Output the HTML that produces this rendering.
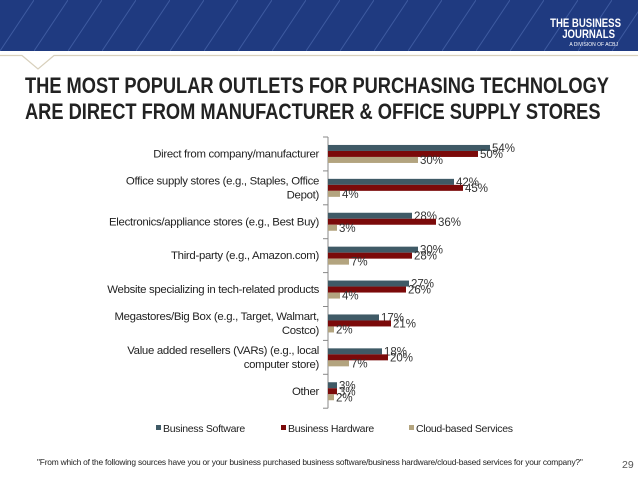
<!DOCTYPE html>
<html><head><meta charset="utf-8"><style>
body{margin:0;width:638px;height:479px;overflow:hidden;background:#fff;font-family:"Liberation Sans",sans-serif;position:relative}
.abs{position:absolute}
</style></head><body>
<svg class="abs" style="left:0;top:0" width="638" height="479">
<defs><pattern id="diag" width="34" height="51" patternUnits="userSpaceOnUse"><line x1="0" y1="51" x2="34" y2="0" stroke="#3d5aa0" stroke-width="1"/></pattern></defs>
<rect x="0" y="0" width="638" height="51" fill="#1f3a80"/>
<rect x="0" y="0" width="638" height="51" fill="url(#diag)"/>
<polyline points="0,55.5 22,55.5 38,69 54,55.5 638,55.5" fill="none" stroke="#d8d0bc" stroke-width="1.2"/>
<g font-family="Liberation Sans" font-weight="bold" fill="#fff" text-anchor="end">
<text x="621" y="27" font-size="12" transform="translate(621 0) scale(0.8 1) translate(-621 0)">THE BUSINESS</text>
<text x="615" y="38" font-size="12" transform="translate(615 0) scale(0.8 1) translate(-615 0)">JOURNALS</text>
<text x="618" y="46" font-size="5" font-weight="normal">A DIVISION OF ACBJ</text>
</g>
<g font-weight="bold" font-size="22" fill="#222">
<text x="25" y="93" transform="translate(25 0) scale(0.83 1) translate(-25 0)">THE MOST POPULAR OUTLETS FOR PURCHASING TECHNOLOGY</text>
<text x="25" y="119" transform="translate(25 0) scale(0.83 1) translate(-25 0)">ARE DIRECT FROM MANUFACTURER &amp; OFFICE SUPPLY STORES</text>
</g>
<g id="chart"></g>
<g font-size="10.5" fill="#222">
<rect x="156" y="425" width="5" height="5" fill="#3f5a66"/><text x="163" y="432" letter-spacing="-0.3">Business Software</text>
<rect x="281" y="425" width="5" height="5" fill="#7b0a0a"/><text x="288" y="432" letter-spacing="-0.3">Business Hardware</text>
<rect x="409" y="425" width="5" height="5" fill="#b3a47f"/><text x="416" y="432" letter-spacing="-0.3">Cloud-based Services</text>
</g>
<text x="37" y="465" font-size="8.4" fill="#222" letter-spacing="-0.2">"From which of the following sources have you or your business purchased business software/business hardware/cloud-based services for your company?"</text>
<text x="622" y="468" font-size="10.5" fill="#555">29</text>
</svg>
<script>
const categories=[["Direct from company/manufacturer"],["Office supply stores (e.g., Staples, Office","Depot)"],["Electronics/appliance stores (e.g., Best Buy)"],["Third-party (e.g., Amazon.com)"],["Website specializing in tech-related products"],["Megastores/Big Box (e.g., Target, Walmart,","Costco)"],["Value added resellers (VARs) (e.g., local","computer store)"],["Other"]];
const software=[54,42,28,30,27,17,18,3];
const hardware=[50,45,36,28,26,21,20,3];
const cloud=[30,4,3,7,4,2,7,2];
const series=[software,hardware,cloud];
const colors=["#3f5a66","#7b0a0a","#b3a47f"];
const names=["software","hardware","cloud"];
const ns="http://www.w3.org/2000/svg";
const g=document.getElementById('chart');
const x0=328,pxPer=3.0,topY=137,step=33.9,barH=6;
const xs=v=>x0+v*pxPer;
function mk(t,a){const e=document.createElementNS(ns,t);for(const k in a)e.setAttribute(k,a[k]);g.appendChild(e);return e;}
const ax=mk('line',{x1:x0,y1:topY,x2:x0,y2:topY+step*categories.length,stroke:'#888','stroke-width':1});


for(let i=0;i<=categories.length;i++){const t=mk('line',{x1:x0-5,x2:x0,y1:topY+i*step,y2:topY+i*step,stroke:'#888'});

}
categories.forEach((c,i)=>{
 const cy=topY+i*step+step/2;
 const lines=c.length;
 c.forEach((ln,j)=>{const t=mk('text',{x:319,y:cy+3.5+(j-(lines-1)/2)*14,'text-anchor':'end','font-size':'11.4','fill':'#222','letter-spacing':'-0.3'});t.textContent=ln;
 
 });
 series.forEach((s,k)=>{
  const y=cy-9+k*barH;
  const r=mk('rect',{x:x0,y:y,width:xs(s[i])-x0,height:barH,fill:colors[k]});
  
  
  const t=mk('text',{x:xs(s[i])+2,y:y+barH/2+4,'font-size':'11.5','fill':'#333'});t.textContent=s[i]+'%';
  
  
 });
});
</script>
</body></html>
